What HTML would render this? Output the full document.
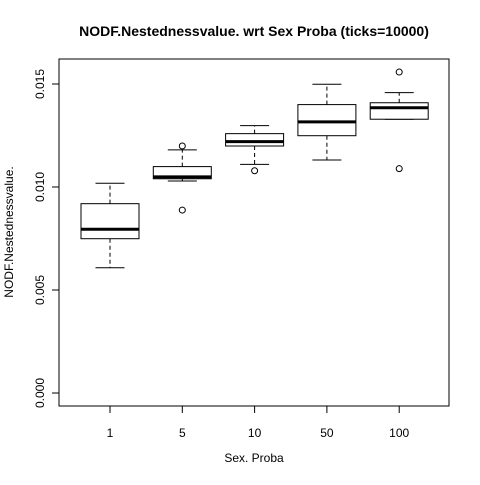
<!DOCTYPE html>
<html><head><meta charset="utf-8"><style>
body{margin:0;background:#fff}
svg text{font-family:"Liberation Sans",sans-serif}
</style></head><body>
<svg id="c" width="480" height="480" xmlns="http://www.w3.org/2000/svg">
<rect width="480" height="480" fill="#fff"/>
<text x="254" y="36" text-anchor="middle" font-size="14" font-weight="bold">NODF.Nestednessvalue. wrt Sex Proba (ticks=10000)</text>
<rect x="59" y="59" width="390" height="347" fill="none" stroke="#000"/>
<text x="254" y="462" text-anchor="middle" font-size="12">Sex. Proba</text>
<text transform="translate(13,232) rotate(-90)" text-anchor="middle" font-size="12">NODF.Nestednessvalue.</text>
<g id="g"></g>
</svg>
<script>
const categories=["1","5","10","50","100"];
const whiskLo=[0.00608,0.01029,0.0111,0.01131,0.01329];
const q1=[0.00749,0.0104,0.01199,0.01249,0.01329];
const med=[0.00795,0.01049,0.0122,0.01316,0.01385];
const q3=[0.00919,0.01099,0.01259,0.0140,0.01409];
const whiskHi=[0.01018,0.0118,0.01298,0.01499,0.01458];
const outliers=[[],[0.01199,0.00888],[0.01079],[],[0.01558,0.01089]];
const yTicks=[0,0.005,0.010,0.015];
const yTickLabels=["0.000","0.005","0.010","0.015"];
const NS="http://www.w3.org/2000/svg";
const g=document.getElementById('g');
const y=v=>393-v/0.005*103;
const x=i=>110+i*72.3;
function el(t,a){const e=document.createElementNS(NS,t);for(const k in a)e.setAttribute(k,a[k]);g.appendChild(e);return e;}
g.appendChild(document.createElementNS(NS,'g'));
let e=el('line',{x1:59,x2:59,y1:y(0),y2:y(0.015),stroke:'#000'});


yTicks.forEach((v,i)=>{
 let t=el('line',{x1:52,x2:59,y1:y(v),y2:y(v),stroke:'#000'});
 
 
 let l=el('text',{transform:`translate(44,${y(v)}) rotate(-90)`,'text-anchor':'middle','font-size':12});
 l.textContent=yTickLabels[i];
 
 
});
categories.forEach((c,i)=>{
 const cx=x(i),hw=29,cw=14.5;
 let t=el('line',{x1:cx,x2:cx,y1:406,y2:413,stroke:'#000'});
 
 
 let l=el('text',{x:cx,y:437,'text-anchor':'middle','font-size':12});
 l.textContent=c;
 
 
 let w1=el('line',{x1:cx,x2:cx,y1:y(q3[i]),y2:y(whiskHi[i]),stroke:'#000','stroke-dasharray':'4,3'});
 
 
 let w2=el('line',{x1:cx,x2:cx,y1:y(q1[i]),y2:y(whiskLo[i]),stroke:'#000','stroke-dasharray':'4,3'});
 
 
 let c1=el('line',{x1:cx-cw,x2:cx+cw,y1:y(whiskHi[i]),y2:y(whiskHi[i]),stroke:'#000'});
 
 
 let c2=el('line',{x1:cx-cw,x2:cx+cw,y1:y(whiskLo[i]),y2:y(whiskLo[i]),stroke:'#000'});
 
 
 let b=el('rect',{x:cx-hw,y:y(q3[i]),width:2*hw,height:Math.max(0.5,y(q1[i])-y(q3[i])),fill:'#fff',stroke:'#000'});
 
 
 let m=el('line',{x1:cx-hw,x2:cx+hw,y1:y(med[i]),y2:y(med[i]),stroke:'#000','stroke-width':3});
 
 
 outliers[i].forEach(o=>{
  let p=el('circle',{cx:cx,cy:y(o),r:3,fill:'none',stroke:'#000'});
  
  
 });
});
</script>
</body></html>
